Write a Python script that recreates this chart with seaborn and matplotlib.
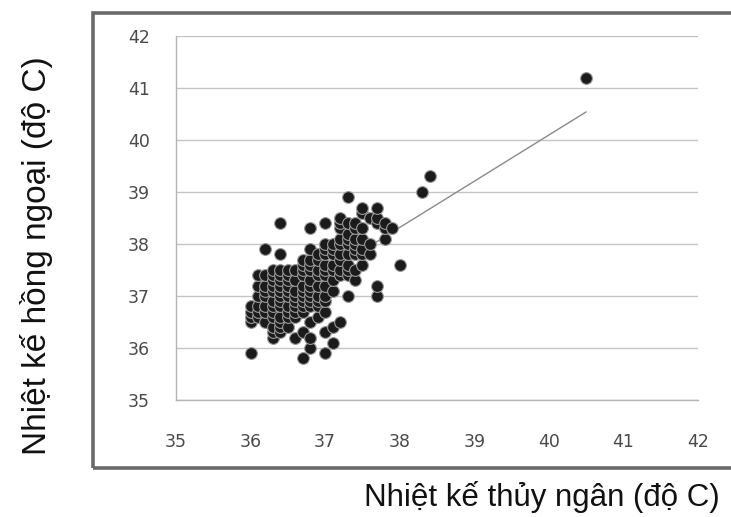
import matplotlib
matplotlib.use("Agg")
import matplotlib.pyplot as plt
import seaborn as sns
import pandas as pd
from matplotlib.patches import Rectangle

# --- data (mercury thermometer x, infrared thermometer y) ---
mercury_cols = [36.0, 36.1, 36.2, 36.3, 36.4, 36.5, 36.6, 36.7, 36.8, 36.9,
                37.0, 37.1, 37.2, 37.3, 37.4, 37.5, 37.6, 37.7, 37.8, 37.9,
                38.0, 38.3, 38.4, 40.5]
infrared_per_col = [
    [35.9, 36.5, 36.6, 36.7, 36.8],
    [36.6, 36.7, 36.8, 37.0, 37.2, 37.4],
    [36.5, 36.7, 36.8, 37.0, 37.1, 37.2, 37.4, 37.9],
    [36.2, 36.3, 36.4, 36.6, 36.7, 36.8, 36.9, 37.1, 37.2, 37.3, 37.4, 37.5],
    [36.3, 36.4, 36.5, 36.6, 36.8, 36.9, 37.0, 37.1, 37.2, 37.3, 37.4, 37.5, 37.8, 38.4],
    [36.4, 36.6, 36.7, 36.8, 37.0, 37.1, 37.2, 37.3, 37.4, 37.5],
    [36.2, 36.6, 36.7, 36.8, 36.9, 37.0, 37.1, 37.3, 37.5],
    [35.8, 36.3, 36.7, 36.8, 36.9, 37.0, 37.1, 37.2, 37.4, 37.5, 37.6, 37.7],
    [36.0, 36.2, 36.5, 36.8, 36.9, 37.0, 37.1, 37.2, 37.3, 37.5, 37.6, 37.7, 37.9, 38.3],
    [36.6, 36.8, 36.9, 37.0, 37.2, 37.4, 37.5, 37.7, 37.8],
    [35.9, 36.3, 36.7, 36.9, 37.0, 37.2, 37.4, 37.5, 37.6, 37.8, 37.9, 38.0, 38.4],
    [36.1, 36.4, 37.1, 37.3, 37.5, 37.6, 37.8, 37.9, 38.0],
    [36.5, 37.4, 37.5, 37.7, 37.8, 38.0, 38.1, 38.3, 38.4, 38.5],
    [37.0, 37.4, 37.5, 37.6, 37.8, 38.0, 38.1, 38.2, 38.4, 38.9],
    [37.3, 37.5, 37.8, 37.9, 38.0, 38.1, 38.3, 38.4],
    [37.6, 37.8, 37.9, 38.1, 38.3, 38.6, 38.7],
    [37.8, 38.0, 38.5],
    [37.0, 37.2, 38.4, 38.5, 38.7],
    [38.1, 38.3, 38.4],
    [38.3],
    [37.6],
    [39.0],
    [39.3],
    [41.2],
]
trend_x = [36.0, 40.5]
trend_y = [36.54, 40.54]
ticks = [35, 36, 37, 38, 39, 40, 41, 42]
x_label = "Nhiệt kế thủy ngân (độ C)"
y_label = "Nhiệt kế hồng ngoại (độ C)"

rows = [(x, y) for x, ys in zip(mercury_cols, infrared_per_col) for y in ys]
df = pd.DataFrame(rows, columns=["mercury", "infrared"])
trend = pd.DataFrame({"x": trend_x, "y": trend_y})

sns.set_theme(style="white")
plt.rcParams["font.family"] = ["DejaVu Sans"]

W, H = 731, 517
fig = plt.figure(figsize=(W / 100, H / 100), dpi=100)
fig.patch.set_facecolor("white")

# outer chart frame (extends beyond right edge)
frame = Rectangle((93 / W, 1 - 468 / H), (760 - 93) / W, (468 - 13) / H,
                  transform=fig.transFigure, fill=False, edgecolor="#6a6a6a",
                  linewidth=2.6, clip_on=False, zorder=0)
fig.patches.append(frame)

ax = fig.add_axes([176 / W, 1 - 400 / H, (698 - 176) / W, (400 - 36) / H])
ax.set_facecolor("none")

sns.lineplot(data=trend, x="x", y="y", ax=ax, color="#8a8a8a", linewidth=1.0,
             zorder=2)
sns.scatterplot(data=df, x="mercury", y="infrared", ax=ax, s=72,
                color="#1b1b1b", edgecolor="#9a9a9a", linewidth=0.8, zorder=3)

ax.set_xlim(35, 42)
ax.set_ylim(35, 42)
ax.set_xticks(ticks)
ax.set_yticks(ticks)
ax.set_xticklabels([str(t) for t in ticks])
ax.set_yticklabels([str(t) for t in ticks])
ax.yaxis.grid(True, color="#c4c4c4", linewidth=1.0)
ax.xaxis.grid(False)
ax.set_axisbelow(True)
for side in ["top", "right"]:
    ax.spines[side].set_visible(False)
for side in ["left", "bottom"]:
    ax.spines[side].set_color("#b4b4b4")
    ax.spines[side].set_linewidth(1.0)
ax.tick_params(axis="both", which="major", direction="out", length=6,
               width=1.0, color="#b4b4b4", labelcolor="#4a4a4a", labelsize=12.5)
ax.tick_params(axis="y", pad=13)
ax.tick_params(axis="x", pad=18)
ax.set_xlabel("")
ax.set_ylabel("")

fig.text(542 / W, 1 - 497 / H, x_label, ha="center", va="center",
         fontsize=22.5, family=["Liberation Sans", "DejaVu Sans"], color="#111111")
fig.text(37 / W, 1 - 256 / H, y_label, ha="center", va="center", rotation=90,
         fontsize=24, family=["Liberation Sans", "DejaVu Sans"], color="#111111")

fig.savefig("out.png", dpi=100, facecolor="white")
